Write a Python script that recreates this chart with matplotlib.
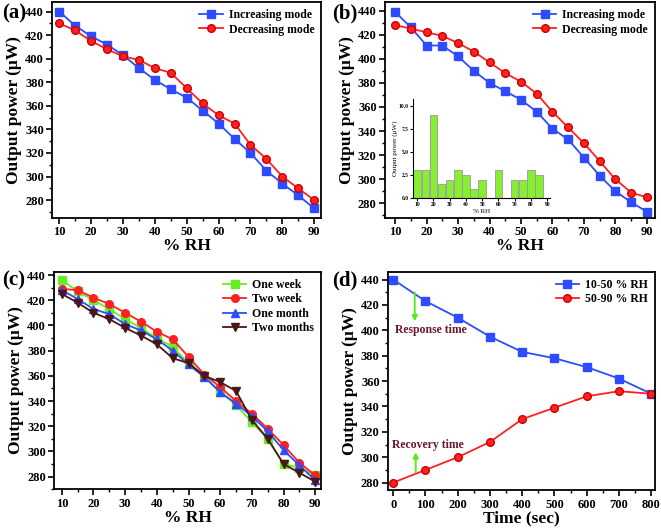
import matplotlib.pyplot as plt
from matplotlib.ticker import MultipleLocator

plt.rcParams['font.family'] = ['Liberation Serif', 'DejaVu Serif']
plt.rcParams['font.weight'] = 'bold'

# Dades llegides del gràfic
rh = [10, 15, 20, 25, 30, 35, 40, 45, 50, 55, 60, 65, 70, 75, 80, 85, 90]

a_increasing = [440, 428, 419, 412, 403, 392, 382, 374, 367, 356, 345, 332, 320, 305, 294, 284, 273]
a_decreasing = [430, 424, 415, 408, 402, 399, 392, 388, 375, 362, 352, 345, 327, 315, 300, 290, 280]

b_increasing = [439, 426, 411, 411, 402, 390, 380, 373, 366, 356, 342, 333, 318, 303, 290, 281, 273]
b_decreasing = [428, 425, 422, 419, 413, 406, 397, 388, 381, 371, 356, 343, 330, 315, 300, 289, 285]

inset_rh = [10, 15, 20, 25, 30, 35, 40, 45, 50, 55, 60, 65, 70, 75, 80, 85]
inset_diff = [3.0, 3.0, 9.0, 1.5, 2.0, 3.0, 2.5, 1.0, 2.0, 0.0, 3.0, 0.0, 2.0, 2.0, 3.0, 2.5]

c_one_week = [436, 427, 420, 413, 405, 398, 390, 383, 370, 360, 347, 337, 323, 310, 290, 287, 281]
c_two_week = [429, 428, 422, 417, 410, 403, 395, 389, 375, 361, 351, 340, 330, 318, 305, 291, 281]
c_one_month = [428, 421, 413, 409, 401, 396, 389, 380, 369, 359, 347, 338, 328, 316, 301, 289, 277]
c_two_months = [425, 418, 410, 405, 398, 392, 385, 374, 370, 360, 355, 348, 325, 310, 290, 283, 276]

time_sec = [0, 100, 200, 300, 400, 500, 600, 700, 800]
d_low = [440, 423, 410, 395, 383, 378, 371, 362, 350]
d_high = [280, 290, 300, 312, 330, 339, 348, 352, 350]

blue = '#2e4cff'
red = '#ff2020'
green = '#66ee22'
brown = '#4a1616'


def StyleAxis(ax, xlabel, xmajor, xminor):
    ax.set_ylabel('Output power (\u03bcW)', fontsize=12.5, fontweight='bold', labelpad=2)
    ax.set_xlabel(xlabel, fontsize=12.5, fontweight='bold', labelpad=0)
    ax.yaxis.set_major_locator(MultipleLocator(20))
    ax.yaxis.set_minor_locator(MultipleLocator(10))
    ax.xaxis.set_major_locator(MultipleLocator(xmajor))
    ax.xaxis.set_minor_locator(MultipleLocator(xminor))
    ax.tick_params(which='major', direction='out', length=4, width=1.2, labelsize=9, pad=2)
    ax.tick_params(which='minor', direction='out', length=2.5, width=1)
    for label in ax.get_xticklabels() + ax.get_yticklabels():
        label.set_fontweight('bold')
    for s in ax.spines.values():
        s.set_linewidth(1.3)


def AddLegend(ax):
    ax.legend(loc='upper right', frameon=False, prop={'size': 8.5, 'weight': 'bold'},
              handlelength=2.0, handletextpad=0.5, borderaxespad=0.2, labelspacing=0.2)


fig = plt.figure(figsize=(6.61, 5.3), dpi=100)

# (a)
ax1 = fig.add_axes([0.079, 0.589, 0.407, 0.407])
ax1.plot(rh, a_increasing, color=blue, marker='s', markersize=5.5, lw=1.3, label='Increasing mode')
ax1.plot(rh, a_decreasing, color=red, marker='o', markersize=5.5, markeredgecolor='#cc0000', lw=1.3, label='Decreasing mode')
ax1.set_xlim(7.8, 92.2)
ax1.set_ylim(265, 448)
StyleAxis(ax1, '% RH', 10, 5)
AddLegend(ax1)
fig.text(0.003, 0.975, '(a)', fontsize=15, fontweight='bold', va='center')

# (b)
ax2 = fig.add_axes([0.5825, 0.589, 0.4085, 0.407])
ax2.plot(rh, b_increasing, color=blue, marker='s', markersize=5.5, lw=1.3, label='Increasing mode')
ax2.plot(rh, b_decreasing, color=red, marker='o', markersize=5.5, markeredgecolor='#cc0000', lw=1.3, label='Decreasing mode')
ax2.set_xlim(6.8, 92.6)
ax2.set_ylim(268, 447)
StyleAxis(ax2, '% RH', 10, 5)
AddLegend(ax2)
fig.text(0.503, 0.975, '(b)', fontsize=15, fontweight='bold', va='center')

# Inset de (b)
axin = fig.add_axes([0.625, 0.626, 0.207, 0.187])
axin.bar(inset_rh, inset_diff, width=4.6, color='#88ee33', edgecolor='#999999', linewidth=0.6)
axin.set_xlim(7.5, 91.7)
axin.set_ylim(0, 10.7)
axin.set_xticks([10, 20, 30, 40, 50, 60, 70, 80, 90])
axin.set_yticks([0, 2.5, 5.0, 7.5, 10.0])
axin.set_yticklabels(['0.0', '2.5', '5.0', '7.5', '10.0'])
axin.tick_params(labelsize=4, length=2, pad=1)
axin.set_xlabel('% RH', fontsize=5, labelpad=1)
axin.set_ylabel('Output power (\u03bcW)', fontsize=5, labelpad=1)
axin.spines['top'].set_visible(False)
axin.spines['right'].set_visible(False)
axin.patch.set_alpha(0)

# (c)
ax3 = fig.add_axes([0.082, 0.077, 0.404, 0.41])
ax3.plot(rh, c_one_week, color=green, marker='s', markersize=5.5, lw=1.3, label='One week')
ax3.plot(rh, c_two_week, color=red, marker='o', markersize=5.5, lw=1.3, label='Two week')
ax3.plot(rh, c_one_month, color=blue, marker='^', markersize=6, lw=1.3, label='One month')
ax3.plot(rh, c_two_months, color=brown, marker='v', markersize=6, lw=1.3, label='Two months')
ax3.set_xlim(7.6, 91.9)
ax3.set_ylim(270, 442.5)
StyleAxis(ax3, '% RH', 10, 5)
AddLegend(ax3)
fig.text(0.003, 0.47, '(c)', fontsize=15, fontweight='bold', va='center')

# (d)
ax4 = fig.add_axes([0.587, 0.075, 0.404, 0.412])
ax4.plot(time_sec, d_low, color=blue, marker='s', markersize=5.5, lw=1.3, label='10-50 % RH')
ax4.plot(time_sec, d_high, color=red, marker='o', markersize=5.5, markeredgecolor='#cc0000', lw=1.3, label='50-90 % RH')
ax4.set_xlim(-16, 812)
ax4.set_ylim(274, 446)
StyleAxis(ax4, 'Time (sec)', 100, 50)
AddLegend(ax4)
ax4.annotate('', xy=(67, 405), xytext=(67, 432),
             arrowprops=dict(arrowstyle='-|>', color='#55ee11', lw=1.3, mutation_scale=8))
ax4.text(5, 400, 'Response time', color='#6a1a2a', fontsize=8.5, fontweight='bold', va='center')
ax4.annotate('', xy=(70, 306), xytext=(70, 286),
             arrowprops=dict(arrowstyle='-|>', color='#55ee11', lw=1.3, mutation_scale=8))
ax4.text(-5, 309.5, 'Recovery time', color='#6a1a2a', fontsize=8.5, fontweight='bold', va='center')
fig.text(0.503, 0.47, '(d)', fontsize=15, fontweight='bold', va='center')

fig.savefig('out.png', dpi=100)
